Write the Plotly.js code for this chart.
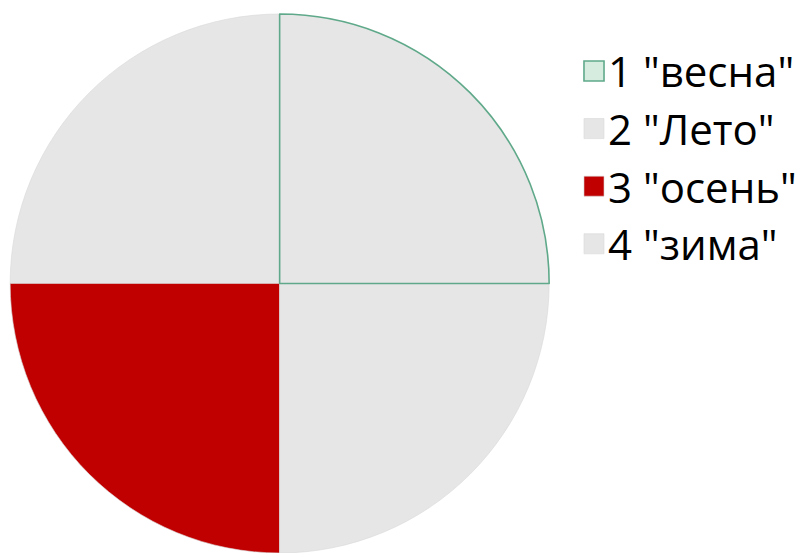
<!DOCTYPE html>
<html>
<head>
<meta charset="utf-8">
<script src="https://cdn.plot.ly/plotly-3.0.1.min.js"></script>
<style>
  html, body { margin: 0; padding: 0; background: #ffffff; }
  #chart { width: 802px; height: 553px; }
</style>
</head>
<body>
<div id="chart"></div>
<script>
// Seasons and their equal shares
const categories = ['1 "весна"', '2 "Лето"', '3 "осень"', '4 "зима"'];
const values = [1, 1, 1, 1];
const fillColors = ['#e6e6e6', '#e6e6e6', '#c00000', '#e6e6e6'];
const lineColors = ['#5fa98a', '#d8d8d8', '#d8d8d8', '#d8d8d8'];
const lineWidths = [1.6, 0.6, 0.6, 0.6];
// The highlighted season gets a tinted key swatch
const swatchFills = ['#d6ecdf', '#e6e6e6', '#c00000', '#e6e6e6'];

// Slices are listed in reverse and laid out counter-clockwise so the
// outlined first season is painted last and its border stays on top.
const rev = a => a.slice().reverse();

const trace = {
  type: 'pie',
  labels: rev(categories),
  values: rev(values),
  sort: false,
  direction: 'counterclockwise',
  rotation: -90,
  textinfo: 'none',
  hoverinfo: 'label',
  marker: {
    colors: rev(fillColors),
    line: { color: rev(lineColors), width: rev(lineWidths) }
  },
  domain: { x: [10 / 802, 550 / 802], y: [0, 1] }
};

const layout = {
  width: 802,
  height: 553,
  margin: { l: 0, r: 0, t: 14, b: 0 },
  paper_bgcolor: '#ffffff',
  plot_bgcolor: '#ffffff',
  showlegend: true,
  legend: {
    x: 569 / 802,
    xanchor: 'left',
    y: 0.957,
    yanchor: 'top',
    traceorder: 'reversed',
    font: { family: 'Open Sans, sans-serif', size: 42, color: '#000000' },
    bgcolor: 'rgba(0,0,0,0)'
  }
};

Plotly.newPlot('chart', [trace], layout, { displayModeBar: false, staticPlot: true }).then(function (gd) {
  // Enlarge the legend swatches and tint them
  document.querySelectorAll('#chart .legend .traces').forEach(function (item) {
    const label = item.querySelector('.legendtext').textContent;
    const idx = categories.indexOf(label);
    const p = item.querySelector('.legendpie');
    if (!p) return;
    p.setAttribute('transform', 'translate(26,0) scale(1.67)');
    p.setAttribute('vector-effect', 'non-scaling-stroke');
    if (idx >= 0) p.style.fill = swatchFills[idx];
  });
});
</script>
</body>
</html>
